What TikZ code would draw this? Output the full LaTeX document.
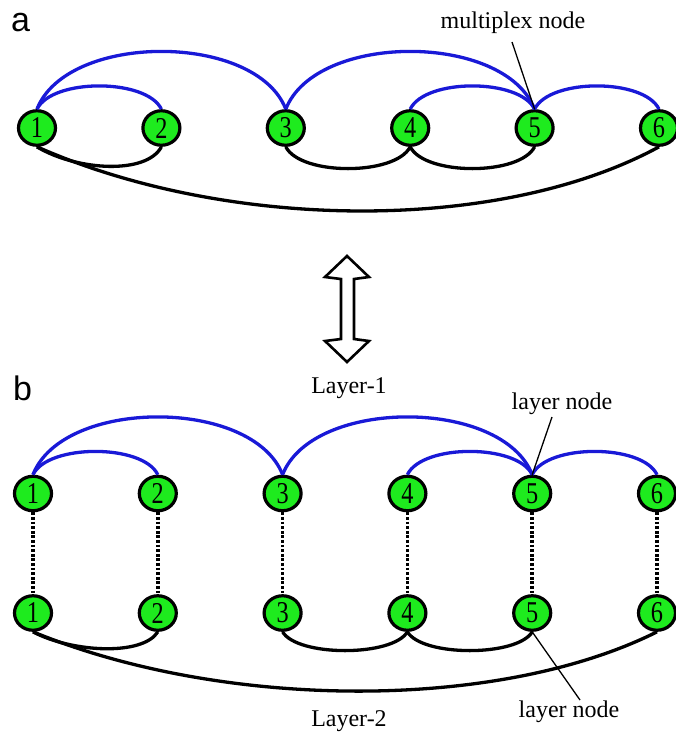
\documentclass[tikz,border=0pt]{standalone}
\usepackage{fontspec}
\usepackage{graphicx}
\setmainfont{Liberation Serif}
\newfontfamily\panelfont{Liberation Sans}
\usetikzlibrary{shapes.geometric}
\definecolor{nodegreen}{RGB}{30,235,30}
\definecolor{linkblue}{RGB}{25,25,215}
\newcommand{\vlabel}[1]{\scalebox{0.9}[1.12]{#1}}
\tikzset{
  vtx/.style={ellipse, draw=black, line width=3.2pt, fill=nodegreen,
    minimum width=37pt, minimum height=34.5pt, inner sep=0pt,
    font=\fontsize{27}{27}\selectfont},
  bluelink/.style={draw=linkblue, line width=3.3pt},
  blacklink/.style={draw=black, line width=3.3pt},
  interlink/.style={draw=black, line width=3.6pt, dash pattern=on 2.8pt off 1.8pt},
  pointer/.style={draw=black, line width=1.3pt},
  caption/.style={font=\fontsize{24}{24}\selectfont, inner sep=0pt},
  panel/.style={font=\panelfont\fontsize{34}{34}\selectfont, inner sep=0pt, anchor=base west},
}
\begin{document}
\begin{tikzpicture}[x=1pt,y=-1pt]
\useasboundingbox (0,0) rectangle (676,737);

% panel labels
\node[panel] (la) at (11,31) {a};
\node[panel] (lb) at (13,400) {b};

% ---------- panel a: multiplex network ----------
\foreach \i/\x in {1/37,2/161.4,3/285.8,4/410.2,5/534.6,6/659}
  \node[vtx] (a\i) at (\x,128) {\vlabel{\i}};

\draw[bluelink] (a1.north) .. controls +(15,-31) and +(-15,-31) .. (a2.north);
\draw[bluelink] (a1.north) .. controls +(30,-77) and +(-30,-77) .. (a3.north);
\draw[bluelink] (a3.north) .. controls +(30,-77) and +(-30,-77) .. (a5.north);
\draw[bluelink] (a4.north) .. controls +(15,-31) and +(-15,-31) .. (a5.north);
\draw[bluelink] (a5.north) .. controls +(15,-31) and +(-15,-31) .. (a6.north);

\draw[blacklink] (a1.south) .. controls +(40,24) and +(-15,28) .. (a2.south);
\draw[blacklink] (a3.south) .. controls +(15,29) and +(-15,29) .. (a4.south);
\draw[blacklink] (a4.south) .. controls +(15,29) and +(-15,29) .. (a5.south);
\draw[blacklink] (a1.south) .. controls +(190,84) and +(-160,87) .. (a6.south);

\node[caption] (mpx) at (513,23) {multiplex node};
\coordinate (mpxend) at (512,42);
\draw[pointer] (mpxend) -- (a5.north);

% ---------- double arrow between the panels ----------
\draw[line width=2.6pt, line join=miter, fill=white]
  (347,256) -- (369,277) -- (354,279) -- (354,339) -- (369,341) -- (347,362)
  -- (325,341) -- (341,339) -- (341,279) -- (325,277) -- cycle;

% ---------- panel b: two-layer network ----------
\node[caption] (l1) at (349,388) {Layer-1};
\node[caption] (l2) at (349,721) {Layer-2};

\foreach \i/\x in {1/33,2/157.8,3/282.6,4/407.4,5/532.2,6/657} {
  \node[vtx] (b\i) at (\x,493.5) {\vlabel{\i}};
  \node[vtx] (c\i) at (\x,613) {\vlabel{\i}};
  \draw[interlink] (b\i.south) -- (c\i.north);
}

\draw[bluelink] (b1.north) .. controls +(15,-31) and +(-15,-31) .. (b2.north);
\draw[bluelink] (b1.north) .. controls +(30,-77) and +(-30,-77) .. (b3.north);
\draw[bluelink] (b3.north) .. controls +(30,-77) and +(-30,-77) .. (b5.north);
\draw[bluelink] (b4.north) .. controls +(15,-31) and +(-15,-31) .. (b5.north);
\draw[bluelink] (b5.north) .. controls +(15,-31) and +(-15,-31) .. (b6.north);

\draw[blacklink] (c1.south) .. controls +(40,21) and +(-15,24) .. (c2.south);
\draw[blacklink] (c3.south) .. controls +(15,25) and +(-15,25) .. (c4.south);
\draw[blacklink] (c4.south) .. controls +(15,25) and +(-15,25) .. (c5.south);
\draw[blacklink] (c1.south) .. controls +(190,78) and +(-160,80) .. (c6.south);

\node[caption] (ln1) at (562,404) {layer node};
\coordinate (ln1end) at (552,417);
\draw[pointer] (ln1end) -- (b5.north);

\node[caption] (ln2) at (569,712) {layer node};
\coordinate (ln2end) at (580,700);
\draw[pointer] (c5.south) -- (ln2end);
\end{tikzpicture}
\end{document}
